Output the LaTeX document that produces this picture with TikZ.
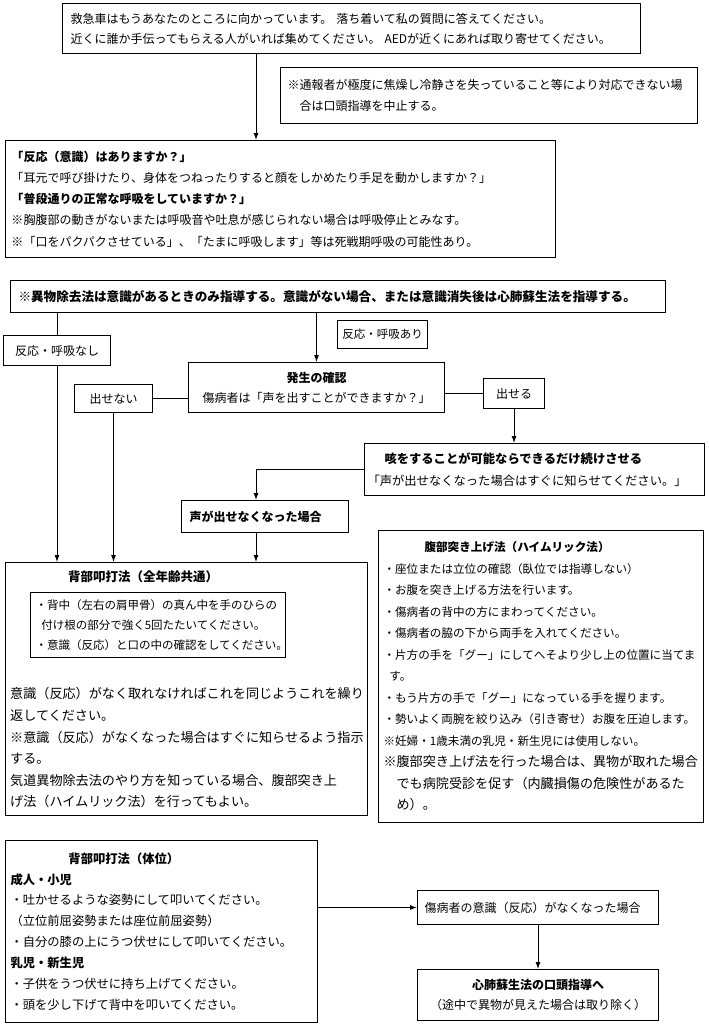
\documentclass[tikz,border=0pt]{standalone}
\usepackage{fontspec}
\setmainfont{Noto Sans CJK JP}
\usetikzlibrary{arrows.meta}
\newcommand\fsz[2]{\fontsize{#1}{#2}\selectfont}
\begin{document}
\begin{tikzpicture}[x=1pt,y=-1pt,
  box/.style={draw, line width=1pt, anchor=north west, inner ysep=0pt, align=left},
  ln/.style={line width=0.9pt},
  arr/.style={line width=0.9pt, -{Latex[length=7pt,width=5pt]}}]
\fill[white] (0,0) rectangle (709,1025);
\useasboundingbox (0,0) rectangle (709,1025);

% top
\node[box, inner xsep=8pt, text width=562pt, minimum width=578pt, minimum height=50pt, font=\fsz{12}{20}] (top) at (62,3)
 {救急車はもうあなたのところに向かっています。 落ち着いて私の質問に答えてください。\\近くに誰か手伝ってもらえる人がいれば集めてください。 AEDが近くにあれば取り寄せてください。};

\node[box, inner xsep=7pt, text width=403pt, minimum width=417pt, minimum height=56pt, font=\fsz{12}{21}] (note) at (280,67)
 {※通報者が極度に焦燥し冷静さを失っていること等により対応できない場\\\hspace*{1em}合は口頭指導を中止する。};

\node[box, inner xsep=6pt, text width=538pt, minimum width=550pt, minimum height=117pt, font=\fsz{12}{21.2}] (q) at (5,140)
 {{\bfseries 「反応（意識）はありますか？」}\\
  「耳元で呼び掛けたり、身体をつねったりすると顔をしかめたり手足を動かしますか？」\\
  {\bfseries 「普段通りの正常な呼吸をしていますか？」}\\
  ※胸腹部の動きがないまたは呼吸音や吐息が感じられない場合は呼吸停止とみなす。\\
  ※「口をパクパクさせている」、「たまに呼吸します」等は死戦期呼吸の可能性あり。};

\node[box, inner xsep=8pt, text width=639pt, minimum width=655pt, minimum height=32pt, font=\bfseries\fsz{12.6}{15}] (rule) at (10,280)
 {※異物除去法は意識があるときのみ指導する。意識がない場合、または意識消失後は心肺蘇生法を指導する。};

\node[box, align=center, inner xsep=2pt, text width=103pt, minimum width=107pt, minimum height=30pt, font=\fsz{12}{14}] (lab1) at (3,335) {反応・呼吸なし};
\node[box, align=center, inner xsep=2pt, text width=86pt, minimum width=90pt, minimum height=28pt, font=\fsz{11.5}{14}] (lab2) at (337,320) {反応・呼吸あり};

\node[box, align=center, inner xsep=4pt, text width=248pt, minimum width=256pt, minimum height=50pt, font=\fsz{12}{20}] (hassei) at (188,362)
 {{\bfseries 発生の確認}\\傷病者は「声を出すことができますか？」};

\node[box, align=center, inner xsep=2pt, text width=74pt, minimum width=78pt, minimum height=28pt, font=\fsz{12}{14}] (denai) at (74,384) {出せない};
\node[box, align=center, inner xsep=2pt, text width=57pt, minimum width=61pt, minimum height=30pt, font=\fsz{12}{14}] (dasearu) at (483,378) {出せる};

\node[box, inner xsep=3pt, text width=334pt, minimum width=340pt, minimum height=52pt, font=\fsz{12.3}{22}] (seki) at (364,443)
 {\hspace*{17pt}{\bfseries 咳をすることが可能ならできるだけ続けさせる}\\「声が出せなくなった場合はすぐに知らせてください。」};

\node[box, inner xsep=8pt, text width=151pt, minimum width=167pt, minimum height=32pt, font=\bfseries\fsz{12}{14}] (koe) at (181,500) {声が出せなくなった場合};

% back blow (all ages)
\node[box, minimum width=362pt, minimum height=253pt] (back) at (5,562) {};
\node[anchor=west, inner sep=0pt, font=\bfseries\fsz{12.5}{14}] (backT) at (68,577) {背部叩打法（全年齢共通）};
\node[box, inner xsep=5pt, text width=245pt, minimum width=255pt, minimum height=65pt, font=\fsz{11.5}{20}] (backIn) at (30,592)
 {・背中（左右の肩甲骨）の真ん中を手のひらの\\\hspace*{0.5em}付け根の部分で強く5回たたいてください。\\・意識（反応）と口の中の確認をしてください。};
\node[anchor=west, inner sep=0pt, align=left, font=\fsz{13.1}{21.6}] (backP) at (10,748)
 {意識（反応）がなく取れなければこれを同じようこれを繰り\\返してください。\\※意識（反応）がなくなった場合はすぐに知らせるよう指示\\する。\\気道異物除去法のやり方を知っている場合、腹部突き上\\げ法（ハイムリック法）を行ってもよい。};

% abdominal thrust
\node[box, inner xsep=5pt, text width=315pt, minimum width=325pt, minimum height=292pt, font=\fsz{11.6}{21.5}] (hara) at (378,530)
 {\hspace*{41pt}{\bfseries 腹部突き上げ法（ハイムリック法）}\\
  ・座位または立位の確認（臥位では指導しない）\\
  ・お腹を突き上げる方法を行います。\\
  ・傷病者の背中の方にまわってください。\\
  ・傷病者の脇の下から両手を入れてください。\\
  ・片方の手を「グー」にしてへそより少し上の位置に当てま\\
  \hspace*{0.5em}す。\\
  ・もう片方の手で「グー」になっている手を握ります。\\
  ・勢いよく両腕を絞り込み（引き寄せ）お腹を圧迫します。\\
  ※妊婦・1歳未満の乳児・新生児には使用しない。\\
  {\fsz{13.1}{21.5}※腹部突き上げ法を行った場合は、異物が取れた場合}\\
  {\fsz{13.1}{21.5}\hspace*{1em}でも病院受診を促す（内臓損傷の危険性があるた}\\
  {\fsz{13.1}{21.5}\hspace*{1em}め）。}};

% back blow (position)
\node[box, inner xsep=5pt, text width=302pt, minimum width=312pt, minimum height=182pt, font=\fsz{12.3}{20.9}] (tai) at (5,840)
 {\hspace*{58pt}{\bfseries 背部叩打法（体位）}\\
  {\bfseries 成人・小児}\\
  ・吐かせるような姿勢にして叩いてください。\\
  （立位前屈姿勢または座位前屈姿勢）\\
  ・自分の膝の上にうつ伏せにして叩いてください。\\
  {\bfseries 乳児・新生児}\\
  ・子供をうつ伏せに持ち上げてください。\\
  ・頭を少し下げて背中を叩いてください。};

\node[box, inner xsep=7pt, text width=227pt, minimum width=241pt, minimum height=34pt, font=\fsz{12}{14}] (ishiki) at (417,890) {傷病者の意識（反応）がなくなった場合};
\node[box, align=center, inner xsep=4pt, text width=233pt, minimum width=241pt, minimum height=51pt, font=\fsz{12}{20}] (cpr) at (417,969)
 {{\bfseries 心肺蘇生法の口頭指導へ}\\（途中で異物が見えた場合は取り除く）};

% connectors
\coordinate (xA) at (256,0);
\draw[arr] (top.south -| xA) -- (q.north -| xA);
\draw[ln] (rule.south -| lab1) -- (lab1.north);
\draw[arr] (lab1.south) -- (back.north -| lab1);
\draw[arr] (rule.south -| hassei) -- (hassei.north);
\draw[ln] (hassei.west |- denai) -- (denai.east);
\draw[arr] (denai.south) -- (back.north -| denai);
\draw[ln] (hassei.east |- dasearu) -- (dasearu.west);
\draw[arr] (dasearu.south) -- (seki.north -| dasearu);
\draw[arr] (seki.west) -- (xA |- seki.west) -- (koe.north -| xA);
\draw[arr] (koe.south -| xA) -- (back.north -| xA);
\draw[arr] (tai.east |- ishiki) -- (ishiki.west);
\draw[arr] (ishiki.south) -- (cpr.north);
\end{tikzpicture}
\end{document}
